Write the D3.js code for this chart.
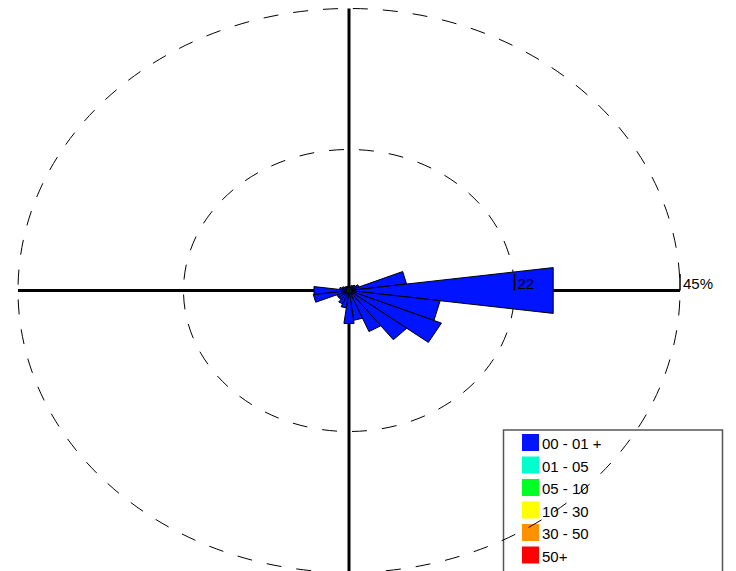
<!DOCTYPE html>
<html><head><meta charset="utf-8">
<script src="https://cdn.jsdelivr.net/npm/d3@7"></script>
<style>html,body{margin:0;padding:0;background:#fff;}svg{display:block;}</style>
</head><body>
<svg id="chart" width="736" height="571"></svg>
<script>
// Data
const directions = [0,15,30,45,60,75,90,105,120,135,150,165,180,195,210,225,240,255,270,285,300,315,330,345];
const speed00_01 = [0.4,0.4,0.6,0.8,1.2,7.6,27.7,12.2,13.3,9.6,6.8,4.5,5.0,2.5,2.0,1.5,1.5,4.6,4.5,1.0,0.7,0.5,0.4,0.4];
const speed01_05 = [0.3,0.3,0.3,0.3,0.3,0.3,0.3,0.3,0.3,0.3,0.3,0.3,0.3,0.3,0.3,0.3,0.3,0.3,0.3,0.3,0.3,0.3,0.3,0.3];
const legendLabels = ["00 - 01 +","01 - 05","05 - 10","10 - 30","30 - 50","50+"];
const legendColors = ["#0014ff","#00ffcc","#00ff22","#ffff00","#ff9100","#ff0000"];
const ringValues = [22.5, 45];
const ringLabels = ["22", "45%"];

const svg = d3.select("#chart");
const cx = 349, cy = 290.5;
const rx = d3.scaleLinear().domain([0,45]).range([0,331]);
const ry = d3.scaleLinear().domain([0,45]).range([0,282]);
const halfW = 7.5;
const font = "'Liberation Sans', Arial, sans-serif";
const dashOffsets = [17, 20];

function pt(bearing, r){
  const a = bearing*Math.PI/180;
  return [cx + rx(r)*Math.sin(a), cy - ry(r)*Math.cos(a)];
}

// Legend
const lg = svg.append("g");
lg.append("rect").attr("x",503.5).attr("y",430).attr("width",219).attr("height",160)
  .attr("fill","#fff").attr("stroke","#555").attr("stroke-width",1.5);
legendLabels.forEach((l,i)=>{
  const y0 = 434 + i*22.5;
  lg.append("rect").attr("x",522).attr("y",y0).attr("width",17).attr("height",17).attr("fill",legendColors[i]);
  lg.append("text").attr("x",542).attr("y",y0+15.3).attr("font-family",font).attr("font-size",15).attr("fill","#000").text(l);
});

// Axes
svg.append("line").attr("x1",cx-rx(45)).attr("x2",cx+rx(45)).attr("y1",cy).attr("y2",cy).attr("stroke","#000").attr("stroke-width",3);
svg.append("line").attr("x1",cx).attr("x2",cx).attr("y1",cy-ry(45)).attr("y2",cy+ry(45)).attr("stroke","#000").attr("stroke-width",3);

// Rings
ringValues.forEach((v,i)=>{
  svg.append("ellipse").attr("cx",cx).attr("cy",cy).attr("rx",rx(v)).attr("ry",ry(v))
    .attr("fill","none").attr("stroke","#000").attr("stroke-width",1)
    .attr("stroke-dasharray","15,15").attr("stroke-dashoffset",dashOffsets[i]);
});

// Petals
function wedge(b, r){
  const p1 = pt(b-halfW, r), p2 = pt(b+halfW, r);
  return `M${cx},${cy}L${p1[0]},${p1[1]}L${p2[0]},${p2[1]}Z`;
}
const petals = svg.append("g");
directions.forEach((b,i)=>{
  petals.append("path").attr("d",wedge(b, speed00_01[i]+speed01_05[i]))
    .attr("fill",legendColors[0]).attr("stroke","#000").attr("stroke-width",1).attr("stroke-linejoin","miter");
});
directions.forEach((b,i)=>{
  petals.append("path").attr("d",wedge(b, speed01_05[i]))
    .attr("fill",legendColors[1]).attr("stroke","#000").attr("stroke-width",0.5);
});

// Ring ticks and labels
ringValues.forEach((v,i)=>{
  const x = cx + rx(v);
  svg.append("line").attr("x1",x).attr("x2",x).attr("y1",cy-16.5).attr("y2",cy).attr("stroke","#000").attr("stroke-width",1.5);
  svg.append("text").attr("x",x+3).attr("y",cy-1.2).attr("font-family",font).attr("font-size",15).attr("fill","#000").text(ringLabels[i]);
});
</script>
</body></html>
